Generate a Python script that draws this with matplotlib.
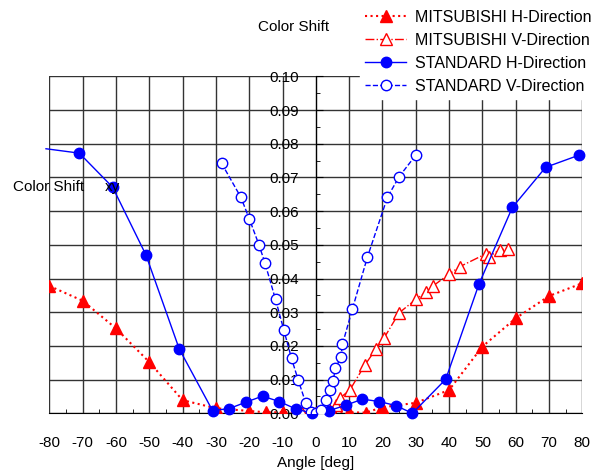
import matplotlib
matplotlib.use('Agg')
from matplotlib import pyplot as plt
from matplotlib.ticker import MultipleLocator

plt.rcParams['font.family'] = ['Liberation Sans', 'DejaVu Sans']
plt.rcParams['axes.unicode_minus'] = False

# MITSUBISHI H-Direction (filled triangles)
mh_x = [-80, -70, -60, -50, -40, -30, -20, -15, -10, -5, 0, 5, 10, 15, 20, 30, 40, 50, 60, 70, 80]
mh_y = [0.0378, 0.0334, 0.0252, 0.0152, 0.0039, 0.0015, 0.0007, 0.0003, 0.0003, 0.0002, 0.0001,
        0.0002, 0.0003, 0.0002, 0.0018, 0.0031, 0.0069, 0.0198, 0.0282, 0.0348, 0.0386]

# MITSUBISHI V-Direction (open triangles)
mv_x = [-4, -2, 0, 2, 4, 6, 7.2, 10.2, 14.7, 18, 20.4, 25, 30, 33, 35.2, 40, 43.2, 51, 52, 55.2, 57.7]
mv_y = [0.0001, 0.0001, 0.0, 0.0005, 0.0012, 0.0025, 0.0045, 0.0069, 0.0143, 0.019, 0.0222,
        0.0298, 0.0338, 0.0359, 0.0378, 0.0413, 0.0435, 0.0473, 0.0465, 0.0485, 0.0488]

# STANDARD H-Direction (filled circles), first point has no marker
sh_x = [-81, -71, -61, -51, -41, -31, -26, -21, -16, -11, -6, -1, 4, 9, 14, 19, 24, 29, 39, 49, 59, 69, 79]
sh_y = [0.0785, 0.0772, 0.0671, 0.047, 0.0191, 0.0008, 0.0014, 0.0033, 0.0051, 0.0035, 0.0013, 0.0,
        0.0008, 0.0024, 0.0042, 0.0035, 0.0023, 0.0, 0.0101, 0.0384, 0.0611, 0.073, 0.0766]

# STANDARD V-Direction (open circles)
sv_x = [-28.3, -22.5, -20, -17, -15.3, -12.1, -9.6, -7.3, -5.3, -3, -1.3, 0, 1.5, 3.2, 4.2,
        5.2, 5.9, 7.5, 8, 11, 15.5, 21.5, 25, 30]
sv_y = [0.0742, 0.0641, 0.0578, 0.0498, 0.0447, 0.0338, 0.0247, 0.0163, 0.0099, 0.003, 0.0005,
        0.0001, 0.001, 0.004, 0.0069, 0.0097, 0.0134, 0.0166, 0.0205, 0.031, 0.0464, 0.0641,
        0.0702, 0.0766]

fig = plt.figure(figsize=(6.03, 4.71), dpi=100)
ax = fig.add_axes([0.0818, 0.1225, 0.8839, 0.7155])

red = '#ff0000'
blue = '#0000ff'

ax.plot(mh_x, mh_y, color=red, linestyle=':', linewidth=1.5, marker='^', markersize=8,
        markerfacecolor=red, markeredgecolor=red, label='MITSUBISHI H-Direction', zorder=3)
ax.plot(mv_x, mv_y, color=red, linestyle='-.', linewidth=1.0, marker='^', markersize=8,
        markerfacecolor='white', markeredgecolor=red, label='MITSUBISHI V-Direction', zorder=3)
ax.plot(sh_x, sh_y, color=blue, linestyle='-', linewidth=1.0, marker='o', markersize=7.5,
        markerfacecolor=blue, markeredgecolor=blue, markevery=list(range(1, len(sh_x))),
        label='STANDARD H-Direction', clip_on=False, zorder=4)
ax.plot(sv_x, sv_y, color=blue, linestyle='--', linewidth=1.0, marker='o', markersize=7.5,
        markerfacecolor='white', markeredgecolor=blue, label='STANDARD V-Direction', zorder=4)

ax.set_xlim(-80, 80)
ax.set_ylim(0, 0.10)

# grid
ax.xaxis.set_major_locator(MultipleLocator(10))
ax.xaxis.set_minor_locator(MultipleLocator(5))
ax.yaxis.set_major_locator(MultipleLocator(0.01))
ax.yaxis.set_minor_locator(MultipleLocator(0.005))
ax.grid(True, which='major', color='0.2', linewidth=1.0)
ax.set_axisbelow(True)

# spines: y axis at x = 0
ax.spines['left'].set_position(('data', 0))
ax.spines['right'].set_visible(False)
ax.spines['top'].set_visible(False)
ax.spines['left'].set_zorder(2)

ax.tick_params(axis='y', which='major', direction='in', length=5, labelsize=11, pad=12)
ax.tick_params(axis='y', which='minor', direction='in', length=3)
ax.tick_params(axis='x', which='major', direction='in', length=0, labelsize=11, pad=16)
ax.tick_params(axis='x', which='minor', direction='in', length=3)
ax.set_yticklabels(['%.2f' % v for v in ax.get_yticks()])

ax.set_xlabel('Angle [deg]', fontsize=11, labelpad=5)

fig.text(294 / 603, 1 - 27 / 471, 'Color Shift', fontsize=11, ha='center', va='center')
fig.text(13 / 603, 1 - 187 / 471, 'Color Shift', fontsize=11, ha='left', va='center')
fig.text(112 / 603, 1 - 187 / 471, 'xy', fontsize=11, ha='center', va='center')

leg = fig.legend(loc='upper left', bbox_to_anchor=(360 / 603, 1 - 5 / 471), fontsize=11.5,
                 frameon=True, fancybox=False, edgecolor='white', facecolor='white',
                 framealpha=1.0, handlelength=2.6, handletextpad=0.55, labelspacing=0.5,
                 borderpad=0.3, borderaxespad=0.0)
leg.set_zorder(10)

plt.savefig('out.png', dpi=100)
